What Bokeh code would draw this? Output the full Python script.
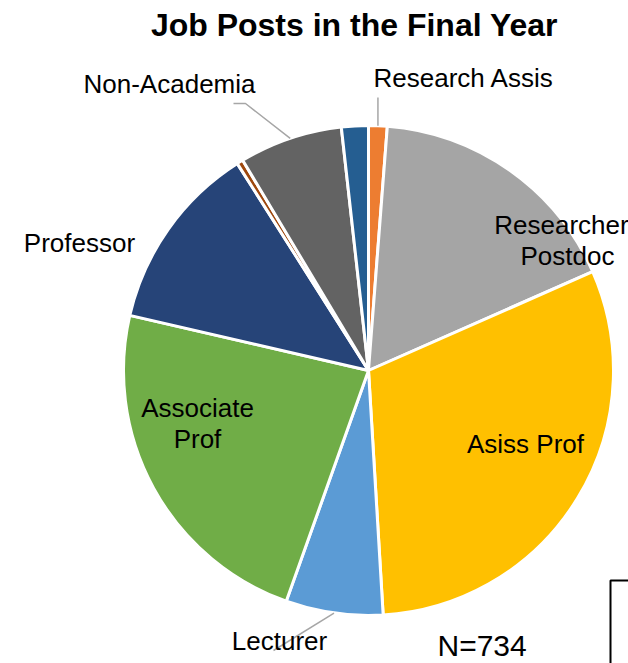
import math
from bokeh.plotting import figure
from bokeh.models import Range1d, ColumnDataSource
from bokeh.core.properties import value
from bokeh.embed import file_html
from bokeh.resources import INLINE

# ---- data (clockwise from 12 o'clock) ----
categories = ["Research Assis", "Researcher Postdoc", "Asiss Prof", "Lecturer",
              "Associate Prof", "Professor", "Other A", "Non-Academia", "Other B"]
counts = [9, 126, 225, 47, 170, 91, 3, 50, 13]
colors = ["#ED7D31", "#A5A5A5", "#FFC000", "#5B9BD5",
          "#70AD47", "#264478", "#9E480E", "#636363", "#255E91"]
title_text = "Job Posts in the Final Year"
n_text = "N=" + str(sum(counts))

W, H = 628, 663
CX, CY, R = 368, H - 370, 245
FONT = "Liberation Sans"
DY = 10  # baseline correction

p = figure(width=W, height=H, x_range=Range1d(0, W), y_range=Range1d(0, H),
           x_axis_type=None, y_axis_type=None, toolbar_location=None,
           output_backend="svg", min_border=0, outline_line_color=None)
p.grid.visible = False
p.background_fill_color = "white"
p.border_fill_color = "white"

total = sum(counts)
starts, ends, mids = [], [], []
cum = 0
for c in counts:
    a0 = cum / total * 2 * math.pi
    cum += c
    a1 = cum / total * 2 * math.pi
    starts.append(math.pi / 2 - a0)
    ends.append(math.pi / 2 - a1)
    mids.append((a0 + a1) / 2)

src = ColumnDataSource(dict(start=starts, end=ends, color=colors, cat=categories))
p.wedge(x=CX, y=CY, radius=R, start_angle="start", end_angle="end",
        direction="clock", fill_color="color", line_color="white",
        line_width=3, source=src)

def rim(i):
    a = mids[i]
    return CX + R * math.sin(a), CY + R * math.cos(a)

# leader lines
lead = "#A6A6A6"
x0, y0 = rim(categories.index("Research Assis"))
p.line([x0, x0], [y0, H - 97], line_color=lead, line_width=1.5)
x0, y0 = rim(categories.index("Non-Academia"))
p.line([x0, 245, 233], [y0, H - 103, H - 103], line_color=lead, line_width=1.5)
x0, y0 = rim(categories.index("Lecturer"))
p.line([x0, 273], [y0, H - 650], line_color=lead, line_width=1.5)

def txt(x, y, s, size, align="center", style="normal"):
    p.text(x=[x], y=[H - (y - DY)], text=[s], text_font=value(FONT),
           text_font_size=f"{size}px", text_align=align,
           text_baseline="alphabetic", text_color="#000000",
           text_font_style=style)

txt(354, 34, title_text, 32, style="bold")
txt(373, 87, "Research Assis", 26, align="left")
txt(169, 93, "Non-Academia", 26)
txt(561, 234, "Researcher", 26)
txt(567, 265, "Postdoc", 26)
txt(79, 252, "Professor", 26)
txt(197, 417, "Associate", 26)
txt(197, 448, "Prof", 26)
txt(525, 453, "Asiss Prof", 26)
txt(279, 650, "Lecturer", 26)
txt(437, 655, n_text, 30, align="left")

# box edge at bottom right
p.line([W, 610, 610], [H - 580, H - 580, 0], line_color="black", line_width=2)

open("out.html", "w").write(file_html(p, INLINE))
